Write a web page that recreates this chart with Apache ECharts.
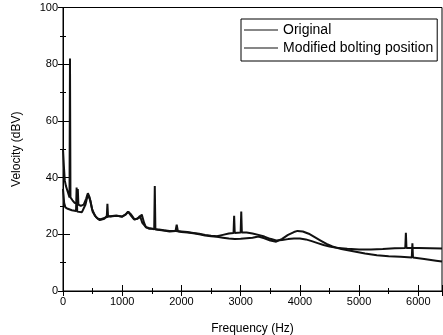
<!DOCTYPE html>
<html><head><meta charset="utf-8">
<script src="https://cdn.jsdelivr.net/npm/echarts@6/dist/echarts.min.js"></script>
<style>html,body{margin:0;padding:0;background:#fff}#c{width:443px;height:335px}</style>
</head><body><div id="c"></div>
<script>
var seriesNames = ['Original', 'Modified bolting position'];
var xTicks = [0, 1000, 2000, 3000, 4000, 5000, 6000];
var yTicks = [0, 20, 40, 60, 80, 100];

var freqOriginal = [0,15,30,50,80,110,118,126,160,200,240,250,260,300,350,390,420,450,490,540,590,640,700,800,900,1000,1060,1100,1140,1200,1260,1300,1340,1400,1450,1500,1540,1550,1560,1620,1700,1800,1900,2000,2100,2200,2300,2400,2500,2600,2700,2800,2880,2890,2900,3000,3010,3020,3100,3200,3300,3400,3500,3600,3700,3800,3900,4000,4100,4200,4300,4400,4500,4600,4800,5000,5200,5400,5600,5780,5790,5800,6000,6200,6400];
var valOriginal  = [50,44,39,37,35,33,82,33,32,31,31,36,30.5,30,30.5,32.5,34.5,33,29,26.5,25.5,25.3,25.8,26.4,26.6,26.2,27,28,26.8,25.3,25.5,26.5,24,22.5,22.2,22,21.8,37,21.8,21.7,21.4,21.2,21.2,21,20.8,20.5,20.2,19.8,19.5,19.3,19.8,20.3,20.5,26.5,20.5,20.6,28,20.6,20.6,20.3,19.8,19.2,18.4,17.8,18,18.3,18.5,18.5,18.2,17.6,16.9,16.2,15.7,15.3,14.9,14.6,14.6,14.8,15.1,15.2,20.5,15.2,15.2,15.1,15];

var freqModified = [0,20,40,80,150,220,230,240,320,380,420,460,500,560,620,700,740,750,760,800,900,1000,1060,1100,1150,1210,1300,1330,1370,1400,1450,1500,1600,1700,1800,1900,1920,1940,2000,2100,2200,2300,2400,2500,2600,2700,2800,2900,3000,3100,3200,3300,3400,3500,3600,3700,3800,3900,3960,4050,4150,4250,4350,4450,4550,4700,4900,5100,5300,5500,5700,5890,5900,5910,6100,6300,6400];
var valModified  = [36,31,29.5,29,28.5,28.2,36.5,28,27.8,30.5,34,32,28,26,25,25.5,26.5,30.8,26.5,26.3,26.5,26.3,27,28,27,25.2,26,27,24,22.5,22,22,21.6,21.3,21,21.2,23.4,21.1,20.8,20.6,20.4,20,19.6,19.3,19.1,18.8,18.5,18.3,18.4,18.6,18.8,19.2,18.6,17.8,17.4,18.4,19.8,20.8,21.2,21,20.2,19,17.8,16.6,15.7,14.8,14,13.2,12.6,12.3,12.1,11.8,16.8,11.8,11.3,10.7,10.4];

function pairs(f, v) { return f.map(function (x, i) { return [x, v[i]]; }); }

var font = 'Liberation Sans, Arial, sans-serif';
var chart = echarts.init(document.getElementById('c'), null, {renderer: 'canvas'});
chart.setOption({
  animation: false,
  backgroundColor: '#fff',
  grid: {left: 63, right: 1, top: 7.5, bottom: 44, show: true, borderColor: '#000', borderWidth: 1,
    containLabel: false, outerBoundsMode: 'none'},
  legend: {
    show: true,
    orient: 'vertical', left: 241, top: 19, padding: [3, 4, 5, 3],
    backgroundColor: '#fff',
    borderColor: '#000', borderWidth: 1, itemWidth: 34, itemHeight: 1.1, itemGap: 2,
    icon: 'path://M0,0L340,0L340,11L0,11Z',
    textStyle: {fontFamily: font, fontSize: 14, lineHeight: 16, color: '#000'},
    data: seriesNames
  },
  xAxis: [{
    type: 'value', min: 0, max: 6400, interval: 1000, position: 'bottom',
    name: 'Frequency (Hz)', nameLocation: 'middle', nameGap: 32,
    nameTextStyle: {fontFamily: font, fontSize: 12, color: '#000'},
    axisLine: {show: true, lineStyle: {color: '#000', width: 1}},
    axisTick: {show: true, inside: true, length: 6, lineStyle: {color: '#000'}},
    minorTick: {show: true, splitNumber: 2, length: 3, lineStyle: {color: '#000'}},
    axisLabel: {fontFamily: font, fontSize: 11, color: '#000', margin: 5,
      formatter: function (v) { return String(v); }},
    splitLine: {show: false}
  }, {
    type: 'value', min: 0, max: 6400, interval: 1000, position: 'top',
    axisLine: {show: false}, axisLabel: {show: false}, splitLine: {show: false},
    axisTick: {show: true, inside: true, length: 5, lineStyle: {color: '#000'}},
    minorTick: {show: true, splitNumber: 2, length: 3, lineStyle: {color: '#000'}}
  }],
  yAxis: [{
    type: 'value', min: 0, max: 100, interval: 20, position: 'left',
    name: 'Velocity (dBV)', nameLocation: 'middle', nameGap: 40, nameRotate: 90,
    nameTextStyle: {fontFamily: font, fontSize: 12, color: '#000'},
    axisLine: {show: true, lineStyle: {color: '#000', width: 1}},
    axisTick: {show: true, inside: true, length: 7, lineStyle: {color: '#000'}},
    minorTick: {show: true, splitNumber: 2, length: 3, lineStyle: {color: '#000'}},
    axisLabel: {fontFamily: font, fontSize: 11, color: '#000', margin: 5,
      formatter: function (v) { return String(v); }},
    splitLine: {show: false}
  }, {
    type: 'value', min: 0, max: 100, interval: 20, position: 'right',
    axisLine: {show: false}, axisLabel: {show: false}, splitLine: {show: false},
    axisTick: {show: true, inside: true, length: 5, lineStyle: {color: '#000'}},
    minorTick: {show: true, splitNumber: 2, length: 3, lineStyle: {color: '#000'}}
  }],
  series: [{
    name: seriesNames[0], type: 'line', symbol: 'none', data: pairs(freqOriginal, valOriginal),
    lineStyle: {color: '#111', width: 2}, itemStyle: {color: '#111'}, z: 3
  }, {
    name: seriesNames[1], type: 'line', symbol: 'none', data: pairs(freqModified, valModified),
    lineStyle: {color: '#111', width: 2}, itemStyle: {color: '#111'}, z: 2
  }]
});
</script></body></html>
